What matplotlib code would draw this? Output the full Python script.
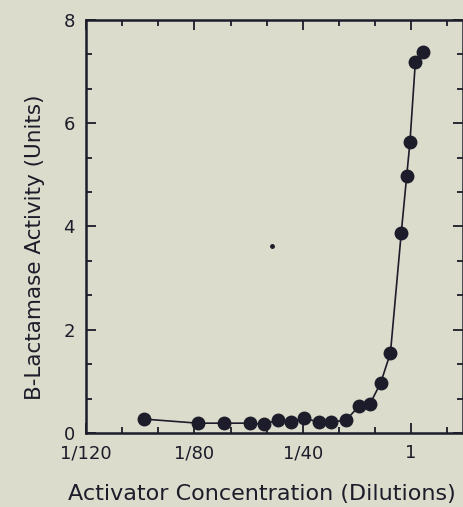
import numpy as np
import matplotlib.pyplot as plt
from matplotlib.ticker import MultipleLocator

# dilution positions (0 = 1/120, 1 = 1/80, 2 = 1/40, 3 = 1) and activity
x_pos = [0.53, 1.03, 1.27, 1.51, 1.64, 1.77, 1.89, 2.01, 2.15, 2.26,
         2.40, 2.52, 2.62, 2.72, 2.81, 2.91, 2.96, 2.99, 3.04, 3.11]
activity = [0.27, 0.19, 0.19, 0.19, 0.17, 0.25, 0.21, 0.29, 0.21, 0.21,
            0.25, 0.52, 0.56, 0.97, 1.55, 3.88, 4.97, 5.63, 7.18, 7.38]
stray_x = [1.72]
stray_y = [3.62]

tick_pos = [0, 1, 2, 3]
tick_labels = ["1/120", "1/80", "1/40", "1"]

bg = "#dcdccd"
ink = "#1c1c2a"
plt.rcParams['font.family'] = ['DejaVu Sans']

fig = plt.figure(figsize=(4.63, 5.07), dpi=100, facecolor=bg)
ax = fig.add_axes([0.186, 0.146, 0.814, 0.815], facecolor=bg)

ax.plot(x_pos, activity, '-', color=ink, lw=1.2, marker='o', ms=9,
        mfc=ink, mec=ink)
ax.plot(stray_x, stray_y, 'o', color=ink, ms=2.5)

ax.set_xlim(0, 3.48)
ax.set_ylim(0, 8)
ax.set_xticks(tick_pos)
ax.set_xticklabels(tick_labels)
ax.set_yticks([0, 2, 4, 6, 8])
ax.xaxis.set_minor_locator(MultipleLocator(1 / 3))
ax.yaxis.set_minor_locator(MultipleLocator(2 / 3))

for s in ax.spines.values():
    s.set_linewidth(1.8)
    s.set_color(ink)
ax.tick_params(which='both', direction='in', top=True, right=True,
               color=ink, labelcolor=ink, labelsize=13, width=1.3)
ax.tick_params(which='major', length=7, pad=8)
ax.tick_params(which='minor', length=4)

ax.set_xlabel("Activator Concentration (Dilutions)", fontsize=16, color=ink)
ax.set_ylabel("B-Lactamase Activity (Units)", fontsize=15.5, color=ink)
ax.xaxis.set_label_coords(0.467, -0.124)
ax.yaxis.set_label_coords(-0.108, 0.45)

fig.savefig("out.png", dpi=100, facecolor=bg)
